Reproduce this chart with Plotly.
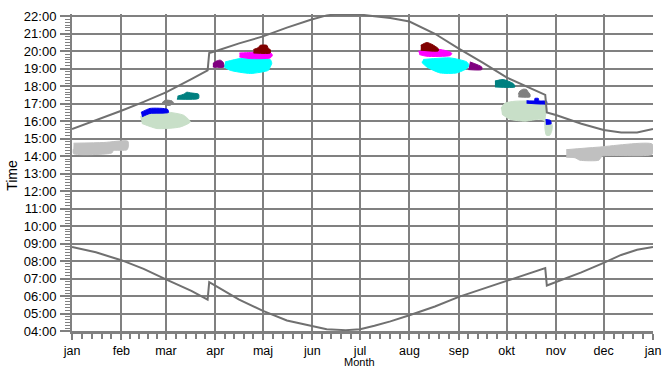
import plotly.graph_objects as go

# ---------------- axes labels ----------------
month_starts = [0, 31, 59, 90, 120, 151, 181, 212, 243, 273, 304, 334, 365]
month_labels = ["jan", "feb", "mar", "apr", "maj", "jun", "jul", "aug", "sep", "okt", "nov", "dec", "jan"]
hour_ticks = [4, 5, 6, 7, 8, 9, 10, 11, 12, 13, 14, 15, 16, 17, 18, 19, 20, 21, 22]
hour_labels = ["04:00", "05:00", "06:00", "07:00", "08:00", "09:00", "10:00", "11:00", "12:00",
               "13:00", "14:00", "15:00", "16:00", "17:00", "18:00", "19:00", "20:00", "21:00", "22:00"]

# ---------------- sunset / sunrise (day of year, hour) ----------------
sunset_days = [0, 15, 31, 45, 59, 75, 85.2, 86.2, 90, 105, 120, 135, 150, 160, 165, 172, 181, 190,
               200, 212, 228, 243, 258, 273, 290, 297.3, 298.3, 304, 320, 334, 345, 355, 365]
sunset_hours = [15.55, 16.05, 16.6, 17.1, 17.65, 18.4, 18.9, 19.9, 20.0, 20.45, 20.85, 21.35, 21.8, 22.05,
                22.1, 22.12, 22.1, 22.0, 21.9, 21.7, 21.0, 20.15, 19.35, 18.5, 17.8, 17.5, 16.5, 16.35,
                15.85, 15.5, 15.35, 15.35, 15.55]

sunrise_days = [0, 15, 31, 45, 59, 75, 85.2, 86.2, 90, 105, 120, 135, 150, 160, 172, 181, 190,
                200, 212, 228, 243, 258, 273, 290, 297.3, 298.3, 304, 320, 334, 345, 355, 365]
sunrise_hours = [8.8, 8.5, 8.05, 7.55, 6.95, 6.3, 5.8, 6.8, 6.6, 5.8, 5.15, 4.6, 4.3, 4.1, 4.05, 4.1,
                 4.3, 4.55, 4.9, 5.4, 5.95, 6.4, 6.85, 7.35, 7.6, 6.6, 6.8, 7.35, 7.9, 8.35, 8.65, 8.8]

# ---------------- shaded periods (polygon outlines: day, hour) ----------------
jan_gray_days = [1, 20, 35, 35.5, 34.5, 26, 25, 1, 0.8]
jan_gray_hours = [14.74, 14.78, 14.86, 14.6, 14.36, 14.32, 14.18, 14.14, 14.4]

dec_gray_days = [310.5, 330, 364.5, 364.5, 333, 331, 319, 316, 310.5]
dec_gray_hours = [14.37, 14.51, 14.69, 14.11, 14.0, 13.77, 13.77, 13.91, 13.94]

mar_green_days = [42.9, 49.2, 59.6, 70.1, 74.3, 68, 53.4, 43.9]
mar_green_hours = [16.25, 16.59, 16.53, 16.34, 15.96, 15.67, 15.58, 15.87]

mar_blue_days = [43.3, 49, 60, 60.6, 49, 44]
mar_blue_hours = [16.5, 16.73, 16.68, 16.5, 16.44, 16.25]

mar_gray_days = [56.5, 58.6, 62.8, 63.8, 61.7, 59.6]
mar_gray_hours = [17.05, 17.2, 17.16, 17.05, 16.91, 16.91]

mar_teal_days = [66.3, 70.1, 72.2, 74.3, 79.5, 79.5, 65.9]
mar_teal_hours = [17.43, 17.54, 17.66, 17.62, 17.54, 17.3, 17.26]

apr_purple_days = [88.5, 91, 93.1, 94.8, 95.6, 88.5]
apr_purple_hours = [19.3, 19.45, 19.49, 19.39, 19.1, 19.1]

apr_cyan_days = [96.2, 105.7, 124.5, 125.5, 124.5, 123.4, 112, 99.4, 95.6]
apr_cyan_hours = [19.39, 19.58, 19.53, 19.31, 19.1, 18.91, 18.73, 18.91, 19.1]

apr_magenta_days = [105.2, 112, 120.3, 124.5, 125.9, 124.5, 112, 105.2]
apr_magenta_hours = [19.9, 19.93, 19.96, 19.94, 19.77, 19.62, 19.58, 19.67]

may_maroon_days = [114, 117.1, 118.2, 122.4, 123.4, 124.5, 124.5, 114]
may_maroon_hours = [20.1, 20.21, 20.34, 20.34, 20.15, 20.1, 19.9, 19.9]

aug_maroon_days = [219.1, 222.9, 226, 230.1, 230.1, 219.1]
aug_maroon_hours = [20.34, 20.5, 20.4, 20.15, 20.02, 20.06]

aug_magenta_days = [217.6, 231.2, 237.5, 238.6, 237.5, 222.9, 218.2]
aug_magenta_hours = [20.0, 20.1, 19.96, 19.87, 19.75, 19.71, 19.81]

aug_cyan_days = [220.7, 237.5, 248, 249.4, 248, 241.7, 231.2, 222.9, 219.7]
aug_cyan_hours = [19.53, 19.62, 19.39, 19.2, 19.01, 18.76, 18.76, 19.1, 19.37]

sep_purple_days = [250, 257.4, 257.4, 249]
sep_purple_hours = [19.39, 19.1, 18.95, 18.95]

sep_teal_days = [265.7, 270.9, 277.2, 278.3, 265.7]
sep_teal_hours = [18.3, 18.38, 18.15, 17.96, 17.96]

oct_gray_days = [280.4, 281.4, 283.5, 285.6, 286.6, 287.7, 287.7, 280.4]
oct_gray_hours = [17.54, 17.73, 17.83, 17.81, 17.67, 17.54, 17.39, 17.39]

oct_green_days = [269.5, 272, 278.3, 290.8, 296.4, 298.3, 297.7, 297.1, 297.1, 298, 300.2, 301.5,
                  301.5, 294, 284.5, 275.1, 270.1]
oct_green_hours = [16.74, 17.03, 17.14, 17.14, 16.97, 16.74, 16.46, 16.06, 15.6, 15.2, 15.2, 15.49,
                   15.83, 16.11, 16.0, 16.11, 16.4]

oct_blue_days = [285.6, 290.5, 290.8, 293, 293.3, 298.2, 298.2, 285.6]
oct_blue_hours = [17.17, 17.17, 17.3, 17.3, 17.17, 17.14, 17.0, 17.03]

oct_blue2_days = [297.5, 300.5, 301, 297.7]
oct_blue2_hours = [16.1, 16.05, 15.85, 15.82]

blobs = [
    (jan_gray_days, jan_gray_hours, "#c0c0c0"),
    (dec_gray_days, dec_gray_hours, "#c0c0c0"),
    (mar_green_days, mar_green_hours, "#c8dfc8"),
    (mar_blue_days, mar_blue_hours, "#0000ee"),
    (mar_gray_days, mar_gray_hours, "#808080"),
    (mar_teal_days, mar_teal_hours, "#008080"),
    (apr_purple_days, apr_purple_hours, "#800080"),
    (apr_cyan_days, apr_cyan_hours, "#00ffff"),
    (apr_magenta_days, apr_magenta_hours, "#ff00ff"),
    (may_maroon_days, may_maroon_hours, "#800000"),
    (aug_cyan_days, aug_cyan_hours, "#00ffff"),
    (aug_magenta_days, aug_magenta_hours, "#ff00ff"),
    (aug_maroon_days, aug_maroon_hours, "#800000"),
    (sep_purple_days, sep_purple_hours, "#800080"),
    (sep_teal_days, sep_teal_hours, "#008080"),
    (oct_green_days, oct_green_hours, "#c8dfc8"),
    (oct_gray_days, oct_gray_hours, "#808080"),
    (oct_blue_days, oct_blue_hours, "#0000ee"),
    (oct_blue2_days, oct_blue2_hours, "#0000ee"),
]

fig = go.Figure()
for bx, by, col in blobs:
    fig.add_trace(go.Scatter(x=bx, y=by, mode="lines", fill="toself", fillcolor=col,
                             line=dict(color=col, width=1, shape="spline", smoothing=0.6),
                             hoverinfo="skip", showlegend=False))

line_col = "#707070"
fig.add_trace(go.Scatter(x=sunset_days, y=sunset_hours, mode="lines",
                         line=dict(color=line_col, width=2), showlegend=False))
fig.add_trace(go.Scatter(x=sunrise_days, y=sunrise_hours, mode="lines",
                         line=dict(color=line_col, width=2), showlegend=False))

# minor x ticks: 5 subdivisions per month
minor_x = []
for i in range(12):
    a, b = month_starts[i], month_starts[i + 1]
    for k in range(1, 5):
        minor_x.append(a + k * (b - a) / 5)

grid_col = "#808080"
fig.update_layout(
    width=664, height=369,
    margin=dict(l=72, r=11, t=14, b=38, autoexpand=False),
    paper_bgcolor="white", plot_bgcolor="white",
    font=dict(family="Liberation Sans, Arial, sans-serif", size=13, color="black"),
    showlegend=False,
    xaxis=dict(
        range=[0, 365], tickmode="array", tickvals=month_starts, ticktext=month_labels,
        showgrid=True, gridcolor=grid_col, gridwidth=2, zeroline=False, automargin=False,
        ticks="outside", ticklen=6, tickwidth=2, tickcolor=grid_col, tickfont=dict(size=12.5),
        showline=True, linecolor=grid_col, linewidth=3, ticklabelstandoff=0,
        minor=dict(tickmode="array", tickvals=minor_x, ticks="outside", ticklen=5,
                   tickwidth=1.5, tickcolor=grid_col, showgrid=False),
        title=dict(text=""),
    ),
    yaxis=dict(
        range=[4, 22.13], tickmode="array", tickvals=hour_ticks, ticktext=hour_labels,
        showgrid=True, gridcolor=grid_col, gridwidth=2, zeroline=False, automargin=False,
        ticks="outside", ticklen=10, tickwidth=2, tickcolor=grid_col,
        showline=True, linecolor=grid_col, linewidth=2, ticklabelstandoff=1,
        minor=dict(dtick=1 / 6, tick0=4, ticks="outside", ticklen=5, tickwidth=1,
                   tickcolor=grid_col, showgrid=False),
        title=dict(text=""),
    ),
    annotations=[
        dict(text="Month", xref="paper", yref="paper", x=0.495, y=-0.12, xanchor="center",
             yanchor="bottom", borderpad=0, showarrow=False, font=dict(size=11)),
        dict(text="Time", xref="paper", yref="paper", x=-0.103, y=0.49, xanchor="center",
             yanchor="middle", textangle=-90, showarrow=False, font=dict(size=14)),
    ],
)

fig.write_html("out.html", config={"displayModeBar": False},
               post_script="document.body.style.margin='0';document.body.style.padding='0';")
